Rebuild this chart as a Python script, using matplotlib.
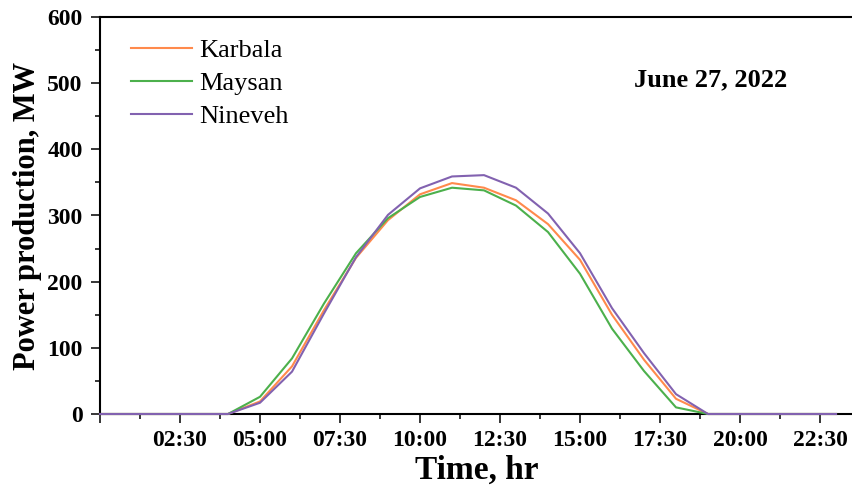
import numpy as np
import matplotlib
matplotlib.use("Agg")
import matplotlib.pyplot as plt
from matplotlib.ticker import MultipleLocator, FuncFormatter

plt.rcParams.update({"font.family": "Liberation Serif"})

#%%
# hourly values (MW)
hours = list(range(24))
karbala = [0, 0, 0, 0, 0, 19, 72, 157, 236, 293, 332, 349,
           342, 323, 287, 233, 150, 82, 23, 0, 0, 0, 0, 0]
maysan = [0, 0, 0, 0, 0, 26, 84, 167, 243, 296, 328, 342,
          338, 315, 275, 212, 129, 65, 10, 0, 0, 0, 0, 0]
nineveh = [0, 0, 0, 0, 0, 17, 64, 152, 237, 301, 341, 359,
           361, 342, 303, 243, 160, 92, 30, 0, 0, 0, 0, 0]

series_names = ["Karbala", "Maysan", "Nineveh"]
series_colors = ["#ff8a4c", "#4cb04c", "#8262b0"]
date_label = "June 27, 2022"


#%%
fig = plt.figure(figsize=(8.53, 4.86), dpi=100)
ax = fig.add_axes([100/853, 72/486, 753/853, 397/486])

for vals, name, color in zip([karbala, maysan, nineveh], series_names, series_colors):
    ax.plot(hours, vals, color=color, linewidth=1.5, label=name,
            zorder=3, clip_on=False)

ax.set_xlim(0, 753/32)
ax.set_ylim(0, 600)

ax.xaxis.set_major_locator(MultipleLocator(2.5))
ax.xaxis.set_minor_locator(MultipleLocator(1.25))
ax.yaxis.set_major_locator(MultipleLocator(100))
ax.yaxis.set_minor_locator(MultipleLocator(50))


def hhmm(x, pos):
    if x <= 0:
        return ""
    h = int(x)
    m = int(round((x-h)*60))
    return "%02d:%02d" % (h, m)


ax.xaxis.set_major_formatter(FuncFormatter(hhmm))

ax.tick_params(which="major", direction="out", length=6.5, width=1.1,
               labelsize=17, pad=5)
ax.tick_params(axis="y", which="major", pad=6)
ax.tick_params(which="minor", direction="out", length=3.6, width=1.1)
for lab in ax.get_xticklabels() + ax.get_yticklabels():
    lab.set_fontweight("bold")

for side in ["left", "bottom", "top"]:
    ax.spines[side].set_linewidth(1.5)
ax.spines["right"].set_visible(False)

ax.set_xlabel("Time, hr", fontsize=24, fontweight="bold", labelpad=3)
ax.set_ylabel("Power production, MW", fontsize=22, fontweight="bold", labelpad=4)

ax.legend(loc="upper left", bbox_to_anchor=(0.02, 0.985), frameon=False,
          fontsize=19, handlelength=2.3, handletextpad=0.3, labelspacing=0.36,
          borderaxespad=0.2)

ax.text(711, 486-80, date_label, transform=None, fontsize=19, fontweight="bold",
        ha="center", va="center")

fig.savefig("out.png", dpi=100)
